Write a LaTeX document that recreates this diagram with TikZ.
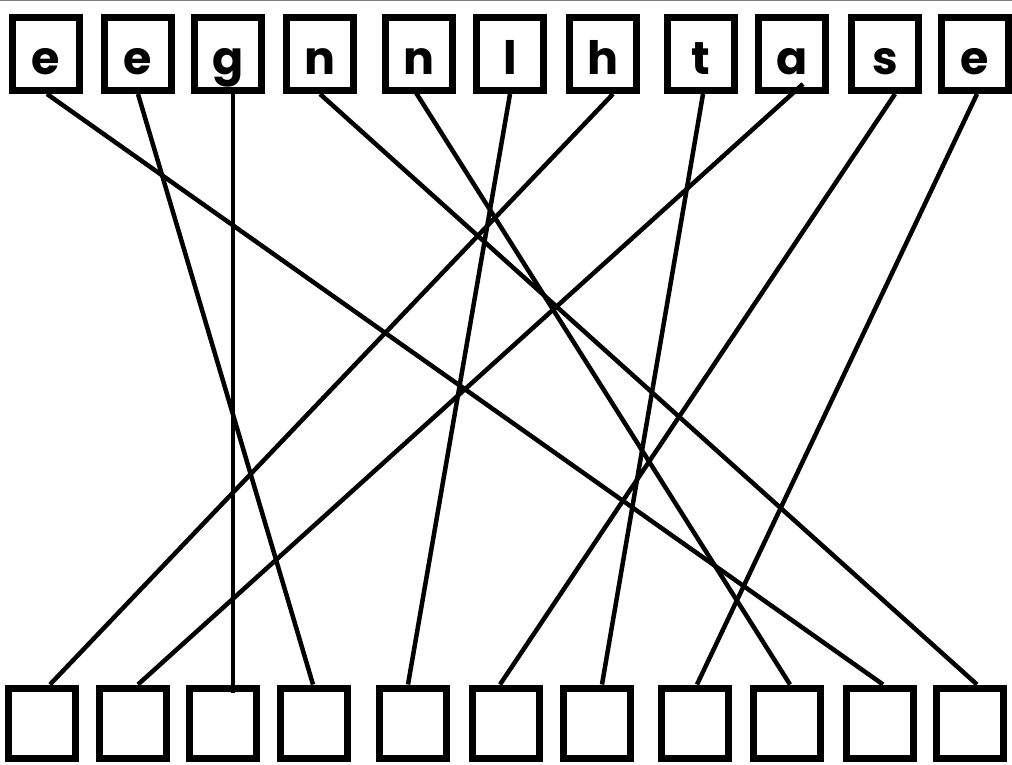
\documentclass[tikz,border=0pt]{standalone}
\usepackage{fontspec}
\setsansfont{Poppins}
\usetikzlibrary{positioning}

\begin{document}
\begin{tikzpicture}[x=1pt, y=-1pt,
  letterbox/.style={rectangle, draw, line width=7pt, minimum width=67pt,
                    minimum height=73pt, inner sep=0pt, text height=42pt, text depth=0pt,
                    font=\sffamily\bfseries\fontsize{46}{46}\selectfont},
  emptybox/.style={rectangle, draw, line width=7pt, minimum width=67pt,
                   minimum height=70pt, inner sep=0pt},
  link/.style={draw, line width=4.5pt}
]
\useasboundingbox (0,0) rectangle (1012,765);
\fill[white] (0,0) rectangle (1012,765);
\draw[gray, line width=1.5pt] (0,0.75) -- (1012,0.75);

% Letters (top row)
\foreach \x/\l [count=\i] in {46/e,138/e,228/g,320/n,419/n,510/l,603/h,701/t,792/a,885/s,975/e}
  \node[letterbox] (t\i) at (\x,54) {\l};

% Empty boxes (bottom row)
\foreach \x [count=\i] in {42,133,223,314,413,506,597,695,787,880,970}
  \node[emptybox] (b\i) at (\x,723) {};

% Links
\draw[link] ([xshift=1pt]t1.south) -- ([xshift=3pt]b10.north);
\draw[link] (t2.south) -- ([xshift=-1pt]b4.north);
\draw[link] ([xshift=5pt]t3.south) -- ([xshift=10pt,yshift=-8pt]b3.north);
\draw[link] (t4.south) -- ([xshift=7pt]b11.north);
\draw[link] ([xshift=-6pt,yshift=6pt]t5.south) -- ([xshift=3pt]b9.north);
\draw[link] (t6.south) -- ([xshift=-5pt]b5.north);
\draw[link] ([xshift=10pt]t7.south) -- ([xshift=8pt]b1.north);
\draw[link] ([xshift=2pt]t8.south) -- ([xshift=5pt]b7.north);
\draw[link] ([xshift=11pt,yshift=10pt]t9.south) -- ([xshift=5pt]b2.north);
\draw[link] ([xshift=10pt]t10.south) -- ([xshift=-6pt]b6.north);
\draw[link] ([xshift=2pt]t11.south) -- ([xshift=2pt]b8.north);

\end{tikzpicture}
\end{document}
